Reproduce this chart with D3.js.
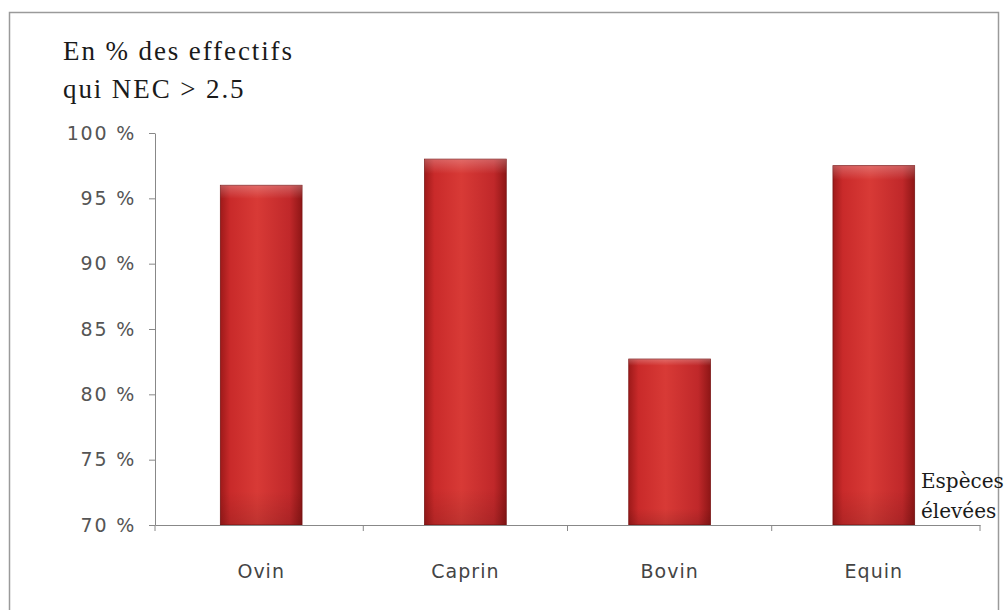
<!DOCTYPE html>
<html><head><meta charset="utf-8">
<script src="https://cdn.jsdelivr.net/npm/d3@7"></script>
<style>body{margin:0;background:#fff}svg{display:block}</style>
</head><body>
<svg id="c" width="1007" height="610"></svg>
<script>
const categories = ["Ovin", "Caprin", "Bovin", "Equin"];
const values = [96.0, 98.0, 82.7, 97.5];
const yTicks = [70, 75, 80, 85, 90, 95, 100];
const titleLines = ["En % des effectifs", "qui NEC > 2.5"];
const axisTitleLines = ["Espèces", "élevées"];

(function () {
const svg = d3.select("#c");
const pLeft = 155, pRight = 980, pTop = 133, pBottom = 525;

// frame
svg.append("rect").attr("x", 9.5).attr("y", 12.5).attr("width", 989).attr("height", 620)
  .attr("fill", "#fff").attr("stroke", "#9a9a9a").attr("stroke-width", 1.5);

const x = d3.scaleBand().domain(categories).range([pLeft, pRight]).paddingInner(0.6).paddingOuter(0.32);
const y = d3.scaleLinear().domain([70, 100]).range([pBottom, pTop]);

// gradients
const defs = svg.append("defs");
const g = defs.append("linearGradient").attr("id", "barGrad").attr("x1", "0").attr("x2", "1").attr("y1", "0").attr("y2", "0");
g.append("stop").attr("offset", "0%").attr("stop-color", "#9e1a1a");
g.append("stop").attr("offset", "12%").attr("stop-color", "#c92a2a");
g.append("stop").attr("offset", "45%").attr("stop-color", "#d83a36");
g.append("stop").attr("offset", "85%").attr("stop-color", "#c0282a");
g.append("stop").attr("offset", "100%").attr("stop-color", "#8e1616");
const gv = defs.append("linearGradient").attr("id", "barTop").attr("x1", "0").attr("x2", "0").attr("y1", "0").attr("y2", "1");
gv.append("stop").attr("offset", "0%").attr("stop-color", "#ffffff").attr("stop-opacity", 0.25);
gv.append("stop").attr("offset", "4%").attr("stop-color", "#ffffff").attr("stop-opacity", 0.0);
gv.append("stop").attr("offset", "90%").attr("stop-color", "#000000").attr("stop-opacity", 0.0);
gv.append("stop").attr("offset", "100%").attr("stop-color", "#000000").attr("stop-opacity", 0.12);

// bars
const data = categories.map((c, i) => ({c, v: values[i]}));
svg.append("g").selectAll("rect").data(data).join("rect")
  .attr("x", d => x(d.c)).attr("width", x.bandwidth())
  .attr("y", d => y(d.v)).attr("height", d => y(70) - y(d.v))
  .attr("fill", "url(#barGrad)").attr("stroke", "#7a1414").attr("stroke-width", 0.8);
svg.append("g").selectAll("rect").data(data).join("rect")
  .attr("x", d => x(d.c)).attr("width", x.bandwidth())
  .attr("y", d => y(d.v)).attr("height", d => y(70) - y(d.v))
  .attr("fill", "url(#barTop)");

// y axis
const yAxis = d3.axisLeft(y).tickValues(yTicks).tickSize(6).tickSizeOuter(0).tickFormat(d => d + " %");
const ya = svg.append("g").attr("transform", `translate(${pLeft},0)`).call(yAxis);
ya.select(".domain").attr("stroke", "#888");
ya.selectAll(".tick line").attr("stroke", "#888");
ya.selectAll(".tick text").attr("x", -19).attr("fill", "#555")
  .style("font-family", "DejaVu Sans, Verdana, sans-serif").style("font-size", "19px")
  .style("letter-spacing", "1.8px");

// x axis
const xAxis = d3.axisBottom(x).tickSize(0).tickSizeOuter(0);
const xa = svg.append("g").attr("transform", `translate(0,${pBottom})`).call(xAxis);
xa.select(".domain").attr("stroke", "#888");
xa.selectAll(".tick text").attr("dy", "0").attr("y", 53).attr("fill", "#444")
  .style("font-family", "DejaVu Sans, Verdana, sans-serif").style("font-size", "19px")
  .style("letter-spacing", "1px");
const edges = [pLeft].concat(categories.slice(1).map(c => x(c) - x.step() * x.paddingInner() / 2)).concat([pRight]);
svg.append("g").selectAll("line").data(edges).join("line")
  .attr("x1", d => d).attr("x2", d => d).attr("y1", pBottom).attr("y2", pBottom + 6)
  .attr("stroke", "#888");

// title
svg.append("text")
  .style("font-family", "Liberation Serif, Times New Roman, serif").style("font-size", "27px")
  .style("letter-spacing", "1.9px").attr("fill", "#1a1a1a")
  .selectAll("tspan").data(titleLines).join("tspan")
  .attr("x", 63).attr("y", (d, i) => 60 + i * 38).text(d => d);

// axis title
svg.append("text")
  .style("font-family", "DejaVu Serif, serif").style("font-size", "20px").attr("fill", "#1a1a1a")
  .selectAll("tspan").data(axisTitleLines).join("tspan")
  .attr("x", 921).attr("y", (d, i) => 488 + i * 30).text(d => d);
})();
</script>
</body></html>
